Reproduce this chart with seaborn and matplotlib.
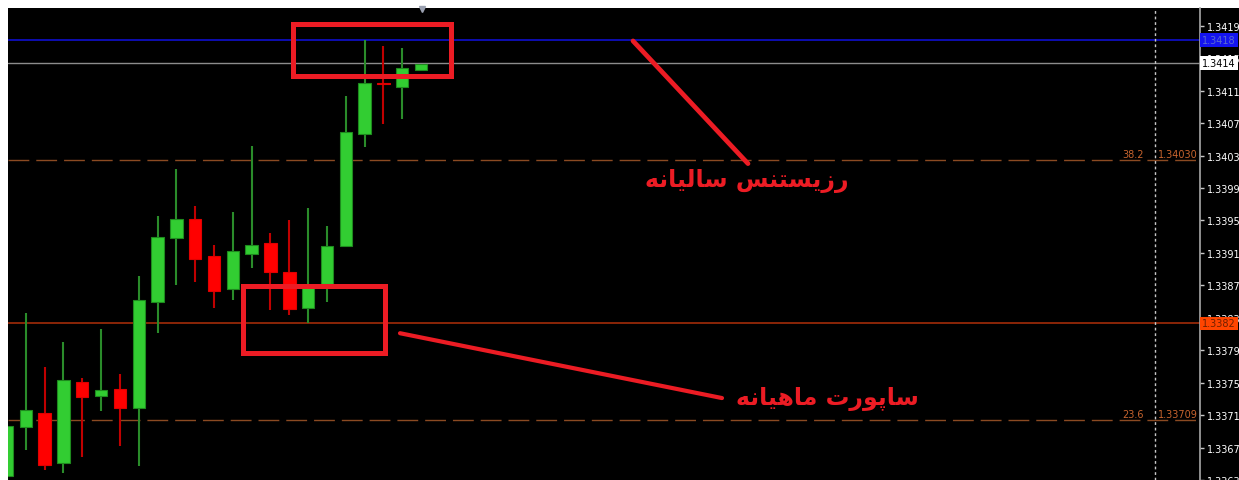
import matplotlib
matplotlib.use("Agg")
import matplotlib.pyplot as plt
import matplotlib.transforms as mtransforms
from matplotlib.patches import Rectangle
import seaborn as sns
import pandas as pd

# candles (oldest -> newest)
opens = [1.33640, 1.33700, 1.33718, 1.33656, 1.33756, 1.33738, 1.33747, 1.33724,
         1.33855, 1.33933, 1.33957, 1.33911, 1.33870, 1.33914, 1.33927, 1.33892,
         1.33847, 1.33877, 1.33924, 1.34062, 1.34124, 1.34119, 1.34141]
highs = [1.33704, 1.33841, 1.33774, 1.33805, 1.33761, 1.33821, 1.33766, 1.33887,
         1.33960, 1.34019, 1.33973, 1.33925, 1.33966, 1.34047, 1.33940, 1.33956,
         1.33970, 1.33948, 1.34109, 1.34177, 1.34170, 1.34168, 1.34148]
lows = [1.33630, 1.33672, 1.33647, 1.33644, 1.33663, 1.33720, 1.33677, 1.33652,
        1.33816, 1.33875, 1.33879, 1.33847, 1.33857, 1.33897, 1.33844, 1.33839,
        1.33828, 1.33855, 1.33922, 1.34045, 1.34074, 1.34080, 1.34141]
closes = [1.33702, 1.33721, 1.33654, 1.33758, 1.33737, 1.33746, 1.33724, 1.33857,
          1.33934, 1.33957, 1.33907, 1.33868, 1.33917, 1.33925, 1.33892, 1.33846,
          1.33873, 1.33924, 1.34064, 1.34124, 1.34123, 1.34143, 1.34148]

# price scale on the right
tick_values = [1.34195, 1.34155, 1.34115, 1.34075, 1.34035, 1.33995, 1.33955, 1.33915,
               1.33875, 1.33835, 1.33795, 1.33755, 1.33715, 1.33675, 1.33635]
tick_labels = ["1.3419", "1.3415", "1.3411", "1.3407", "1.3403", "1.3399", "1.3395", "1.3391",
               "1.3387", "1.3383", "1.3379", "1.3375", "1.3371", "1.3367", "1.3363"]

# horizontal levels
resist_level = 1.34178
resist_label = "1.3418"
bid_level = 1.34149
bid_label = "1.3414"
support_level = 1.33828
support_label = "1.3382"
fib_levels = [1.34030, 1.33709]
fib_pcts = ["38.2", "23.6"]
fib_labels = ["1.34030", "1.33709"]
vline_index = 61.0

text_resist = "رزیستنس سالیانه"
text_support = "ساپورت ماهیانه"

df = pd.DataFrame({"open": opens, "high": highs, "low": lows, "close": closes})
df["idx"] = range(len(df))
df["up"] = df["close"] >= df["open"]

# --- tiny persian shaper (matplotlib draws no joining / rtl) ---
FORMS = {
    "ا": ("\uFE8D", "\uFE8E", None, None),
    "ر": ("\uFEAD", "\uFEAE", None, None),
    "ز": ("\uFEAF", "\uFEB0", None, None),
    "و": ("\uFEED", "\uFEEE", None, None),
    "س": ("\uFEB1", "\uFEB2", "\uFEB3", "\uFEB4"),
    "ت": ("\uFE95", "\uFE96", "\uFE97", "\uFE98"),
    "ن": ("\uFEE5", "\uFEE6", "\uFEE7", "\uFEE8"),
    "ل": ("\uFEDD", "\uFEDE", "\uFEDF", "\uFEE0"),
    "ه": ("\uFEE9", "\uFEEA", "\uFEEB", "\uFEEC"),
    "م": ("\uFEE1", "\uFEE2", "\uFEE3", "\uFEE4"),
    "ی": ("\uFBFC", "\uFBFD", "\uFBFE", "\uFBFF"),
    "پ": ("\uFB56", "\uFB57", "\uFB58", "\uFB59"),
}

def dual(c):
    return c in FORMS and FORMS[c][2] is not None

def shape(s):
    out = []
    for i, c in enumerate(s):
        if c not in FORMS:
            out.append(c)
            continue
        prev_j = i > 0 and dual(s[i - 1])
        next_j = dual(c) and i + 1 < len(s) and s[i + 1] in FORMS
        iso, fin, ini, med = FORMS[c]
        if prev_j and next_j:
            out.append(med)
        elif prev_j:
            out.append(fin)
        elif next_j:
            out.append(ini)
        else:
            out.append(iso)
    return "".join(out)[::-1]

# pixel -> data helpers for placing the annotations
def px_x(px):
    return (px - 7) / 18.82

def px_y(py):
    return 1.34030 - (py - 161) / 81300

sns.set_theme(style="dark")
plt.rcParams["font.family"] = ["DejaVu Sans"]

W, H = 1239, 481
fig = plt.figure(figsize=(W / 100, H / 100), dpi=100, facecolor="white")
fig.add_artist(Rectangle((8 / W, 0), 1 - 8 / W, 472 / H, transform=fig.transFigure,
                         facecolor="black", edgecolor="none", zorder=0))
ax = fig.add_axes([8 / W, 0, 1192 / W, 472 / H])
ax.set_facecolor("black")

ax.set_xlim(px_x(8), px_x(1200))
ax.set_ylim(px_y(481), px_y(9))

# level lines
for lvl in fib_levels:
    ax.axhline(lvl, color="#8B4A22", lw=1, dashes=(15, 5), zorder=1)
ax.axhline(support_level, color="#B0300A", lw=1.1, zorder=1)
ax.axhline(resist_level, color="#1010E0", lw=1.1, zorder=1)
ax.axhline(bid_level, color="#8C8C8C", lw=1, zorder=1)
ax.axvline(vline_index, color="#C8C8C8", lw=1, linestyle=(0, (2, 2)), zorder=1)

# candles
wick_col = df["up"].map({True: "#2A8C2A", False: "#C00000"})
ax.vlines(df["idx"], df["low"], df["high"], colors=wick_col, lw=1.5, zorder=2)
body_low = df[["open", "close"]].min(axis=1)
body_h = (df["close"] - df["open"]).abs().clip(lower=0.000005)
ax.bar(df["idx"], body_h, bottom=body_low, width=0.66,
       color=df["up"].map({True: "#32CD32", False: "#FF0000"}),
       edgecolor=df["up"].map({True: "#1E8A1E", False: "#E00000"}),
       linewidth=0.8, zorder=3)

# small marker of the last bar at the top edge
ax.plot([px_x(422)], [px_y(10)], marker="v", ms=4, color="#9AA0B0", clip_on=False, zorder=6)

# fib texts
for lvl, pct, lab in zip(fib_levels, fib_pcts, fib_labels):
    ax.text(px_x(1122), lvl + 0.00001, pct, color="#C8642E", fontsize=7, va="bottom", ha="left")
    ax.text(px_x(1198), lvl + 0.00001, lab, color="#C8642E", fontsize=7, va="bottom", ha="right")

# price axis
ax.yaxis.tick_right()
ax.set_yticks(tick_values)
ax.set_yticklabels(tick_labels)
ax.set_xticks([])
ax.tick_params(axis="y", length=3, width=1, color="#C8C8C8", labelsize=7,
               labelcolor="white", pad=2, right=True, left=False)
for side in ["left", "top", "bottom"]:
    ax.spines[side].set_visible(False)
ax.spines["right"].set_color("#A8A8A8")
ax.spines["right"].set_linewidth(1.2)
ax.grid(False)

trans = mtransforms.blended_transform_factory(ax.transAxes, ax.transData)
for lvl, lab, bg, fg in [(resist_level, resist_label, "#1414F0", "#5A6AD0"),
                          (bid_level, bid_label, "white", "black"),
                          (support_level, support_label, "#FF4500", "#702000")]:
    ax.text(1 + 2 / 1192, lvl, lab, transform=trans, fontsize=7, color=fg, va="center",
            ha="left", clip_on=False, zorder=6,
            bbox=dict(boxstyle="square,pad=0.2", facecolor=bg, edgecolor="none"))

# annotations
red = "#EC1C24"
for x0, y0, x1, y1 in [(292.5, 25.5, 450.5, 77.5), (242.5, 287.5, 384.5, 354.5)]:
    ax.add_patch(Rectangle((px_x(x0), px_y(y1)), px_x(x1) - px_x(x0), px_y(y0) - px_y(y1),
                           fill=False, edgecolor=red, lw=3.6, joinstyle="miter", zorder=5))
ax.plot([px_x(633), px_x(748)], [px_y(42), px_y(165)], color=red, lw=3.4,
        solid_capstyle="round", zorder=5)
ax.plot([px_x(400), px_x(722)], [px_y(335), px_y(400)], color=red, lw=3.0,
        solid_capstyle="round", zorder=5)
ax.text(px_x(747), px_y(181), shape(text_resist), color=red, fontsize=17,
        fontweight="bold", ha="center", va="center", zorder=6)
ax.text(px_x(827), px_y(400), shape(text_support), color=red, fontsize=17,
        fontweight="bold", ha="center", va="center", zorder=6)

fig.savefig("out.png", dpi=100, facecolor="white")
